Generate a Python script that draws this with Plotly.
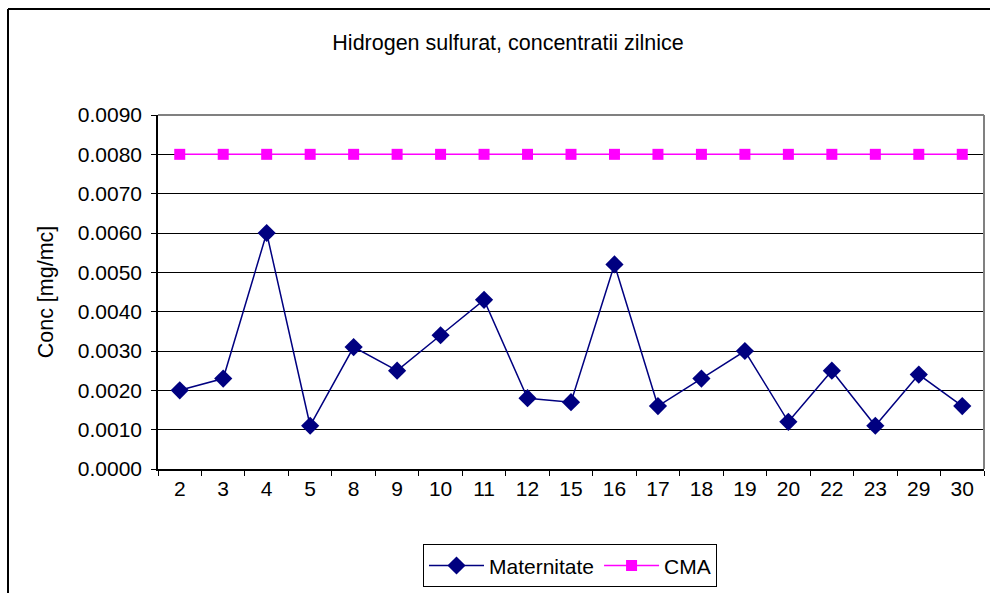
import plotly.graph_objects as go

categories = ["2", "3", "4", "5", "8", "9", "10", "11", "12", "15", "16", "17", "18", "19", "20", "22", "23", "29", "30"]
maternitate = [0.0020, 0.0023, 0.0060, 0.0011, 0.0031, 0.0025, 0.0034, 0.0043, 0.0018, 0.0017,
               0.0052, 0.0016, 0.0023, 0.0030, 0.0012, 0.0025, 0.0011, 0.0024, 0.0016]
cma = [0.0080] * len(categories)
y_ticks = [0.0, 0.001, 0.002, 0.003, 0.004, 0.005, 0.006, 0.007, 0.008, 0.009]

W, H = 990, 593
L, R, T, B = 158, 6, 115, 121
pw, ph = W - L - R, H - T - B

def px_x(x):
    return (x - L) / pw

def px_y(y):
    return (H - B - y) / ph

fig = go.Figure()
fig.add_trace(go.Scatter(x=categories, y=maternitate, name="Maternitate", mode="lines+markers",
                         line=dict(color="#000080", width=1.5),
                         marker=dict(symbol="diamond", size=14, color="#000080")))
fig.add_trace(go.Scatter(x=categories, y=cma, name="CMA", mode="lines+markers",
                         line=dict(color="#FF00FF", width=1.5),
                         marker=dict(symbol="square", size=11, color="#FF00FF")))

font = dict(family="Liberation Sans, Arial, sans-serif", size=21, color="black")

fig.update_layout(
    width=W, height=H,
    margin=dict(l=L, r=R, t=T, b=B),
    paper_bgcolor="white", plot_bgcolor="white",
    font=font,
    showlegend=True,
    title=dict(text="Hidrogen sulfurat, concentratii zilnice", x=px_x(508), xref="paper",
               xanchor="center", y=1 - 42 / H, yanchor="middle", font=dict(size=21.5)),
    legend=dict(orientation="h", x=px_x(570), xanchor="center", y=px_y(548), yanchor="top",
                bordercolor="black", borderwidth=1, font=dict(size=21),
                itemwidth=55, tracegroupgap=0),
    xaxis=dict(type="category", range=[-0.5, len(categories) - 0.5], showgrid=False,
               showline=True, linecolor="black", linewidth=1.5,
               ticks="outside", tickson="boundaries", ticklen=5, tickcolor="black",
               mirror=False, tickfont=dict(size=21)),
    yaxis=dict(range=[0, 0.009], tickvals=y_ticks, tickformat=".4f", showgrid=True,
               gridcolor="black", gridwidth=1, showline=True, linecolor="black", linewidth=1.5,
               ticks="outside", ticklen=5, tickcolor="black", zeroline=False,
               ticklabelstandoff=5,
               title=dict(text="Conc [mg/mc]", standoff=18, font=dict(size=21.5)),
               tickfont=dict(size=21)),
    shapes=[
        dict(type="line", xref="paper", yref="paper", x0=0, x1=1, y0=1, y1=1,
             line=dict(color="gray", width=2)),
        dict(type="line", xref="paper", yref="paper", x0=1, x1=1, y0=0, y1=1,
             line=dict(color="gray", width=2)),
        dict(type="line", xref="paper", yref="paper", x0=px_x(8), x1=px_x(990), y0=px_y(8), y1=px_y(8),
             line=dict(color="black", width=2)),
        dict(type="line", xref="paper", yref="paper", x0=px_x(8), x1=px_x(8), y0=px_y(8), y1=px_y(600),
             line=dict(color="black", width=2)),
    ],
)

fig.write_html("out.html", config={"displayModeBar": False},
               post_script="document.body.style.margin='0';document.body.style.overflow='hidden';")
